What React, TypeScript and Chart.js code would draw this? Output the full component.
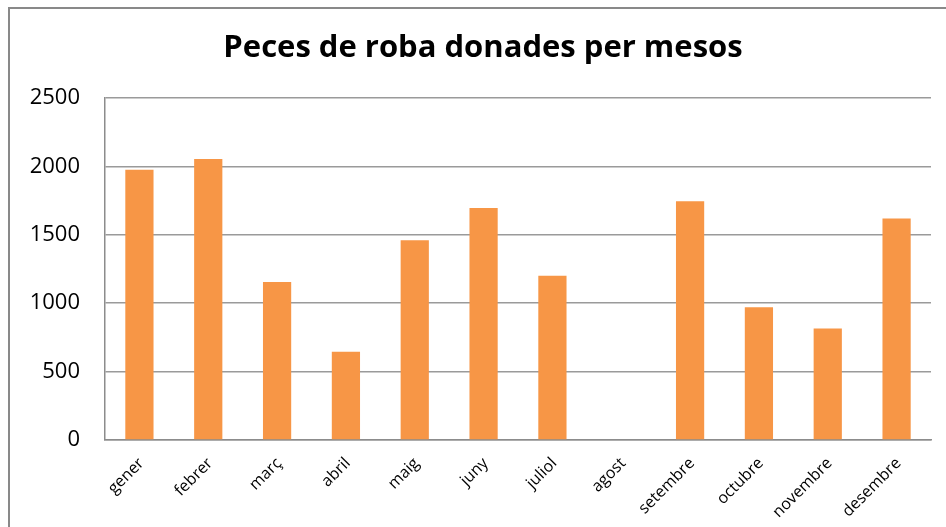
import React, { useEffect, useRef } from "react";
import { Chart, registerables } from "chart.js";

Chart.register(...registerables);

const TITLE = "Peces de roba donades per mesos";
const months = ["gener", "febrer", "març", "abril", "maig", "juny", "juliol", "agost", "setembre", "octubre", "novembre", "desembre"];
const donated = [1975, 2055, 1155, 645, 1460, 1695, 1200, 0, 1745, 970, 815, 1620];
const yTicks = [0, 500, 1000, 1500, 2000, 2500];

const FONT = "'Open Sans', 'Liberation Sans', sans-serif";

const frame = {
  id: "frame",
  beforeDraw(chart: any) {
    const { ctx, width, height } = chart;
    ctx.save();
    ctx.fillStyle = "#ffffff";
    ctx.fillRect(0, 0, width, height);
    ctx.strokeStyle = "#898989";
    ctx.lineWidth = 2;
    ctx.beginPath();
    ctx.moveTo(9, height + 10);
    ctx.lineTo(9, 8);
    ctx.lineTo(width + 10, 8);
    ctx.stroke();
    ctx.restore();
  },
  afterDraw(chart: any) {
    const { ctx } = chart;
    ctx.save();
    ctx.fillStyle = "#000000";
    ctx.font = `bold 31px ${FONT}`;
    ctx.textAlign = "center";
    ctx.textBaseline = "middle";
    ctx.fillText(TITLE, 483, 48);
    ctx.restore();
  },
};

export default function App() {
  const ref = useRef<HTMLCanvasElement>(null);
  useEffect(() => {
    if (!ref.current) return;
    const chart = new Chart(ref.current, {
      type: "bar",
      data: {
        labels: months,
        datasets: [
          {
            data: donated,
            backgroundColor: "#F79646",
            borderWidth: 0,
            barPercentage: 0.41,
            categoryPercentage: 1,
          },
        ],
      },
      options: {
        animation: false,
        responsive: false,
        maintainAspectRatio: false,
        layout: { padding: { left: 0, right: 15, top: 98, bottom: 0 } },
        plugins: {
          legend: { display: false },
          tooltip: { enabled: false },
          title: { display: false },
        },
        scales: {
          x: {
            grid: { display: false, drawTicks: false },
            border: { display: true, color: "#8c8c8c", width: 1.5 },
            ticks: {
              color: "#000000",
              font: { family: FONT, size: 16 },
              maxRotation: 45,
              minRotation: 45,
              padding: 14,
              labelOffset: 2,
              autoSkip: false,
            },
            afterFit(scale: any) {
              scale.height = 87;
              scale.paddingLeft = 0;
              scale.paddingRight = 0;
            },
          },
          y: {
            min: 0,
            max: 2500,
            afterBuildTicks(scale: any) {
              scale.ticks = yTicks.map((v) => ({ value: v }));
            },
            grid: { color: "#9a9a9a", lineWidth: 1.5, drawTicks: false },
            border: { display: true, color: "#8c8c8c", width: 1.5 },
            ticks: {
              color: "#000000",
              font: { family: FONT, size: 22 },
              padding: 25,
              callback: (v: any) => String(v),
            },
            afterFit(scale: any) {
              scale.width = 105;
              scale.paddingTop = 0;
              scale.paddingBottom = 0;
            },
          },
        },
      },
      plugins: [frame],
    });
    return () => chart.destroy();
  }, []);
  return (
    <div style={{ position: "fixed", left: 0, top: 0, width: 946, height: 527, background: "#fff" }}>
      <canvas ref={ref} width={946} height={527} style={{ width: 946, height: 527, display: "block" }} />
    </div>
  );
}
